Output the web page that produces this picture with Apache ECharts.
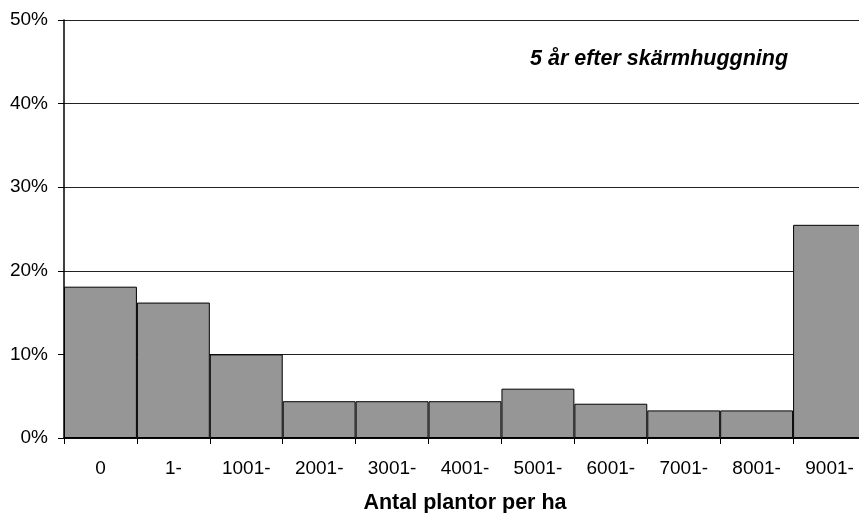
<!DOCTYPE html>
<html>
<head>
<meta charset="utf-8">
<script src="https://cdn.jsdelivr.net/npm/echarts@6/dist/echarts.min.js"></script>
<style>
html,body{margin:0;padding:0;background:#fff;}
#c{width:859px;height:513px;}
</style>
</head>
<body>
<div id="c"></div>
<script>
const categories = ['0','1-','1001-','2001-','3001-','4001-','5001-','6001-','7001-','8001-','9001-'];
const shares = [18.1, 16.2, 10.0, 4.4, 4.4, 4.4, 5.9, 4.1, 3.3, 3.3, 25.5];
const yTicks = [0, 10, 20, 30, 40, 50];
const titleText = '5 år efter skärmhuggning';
const xAxisName = 'Antal plantor per ha';

const FONT = '"Liberation Sans", Arial, sans-serif';
const chart = echarts.init(document.getElementById('c'), null, {renderer: 'canvas'});
chart.setOption({
  animation: false,
  backgroundColor: '#fff',
  title: {
    text: titleText,
    left: 530, top: 48, padding: 0,
    textStyle: {fontFamily: FONT, fontSize: 21.5, fontWeight: 'bold', fontStyle: 'italic', color: '#000'}
  },
  grid: {left: 64, width: 802, top: 20, height: 418, containLabel: false, outerBoundsMode: 'none'},
  xAxis: {
    type: 'category',
    data: categories,
    boundaryGap: true,
    name: xAxisName,
    nameLocation: 'middle',
    nameGap: 54,
    nameTextStyle: {fontFamily: FONT, fontSize: 21.5, fontWeight: 'bold', color: '#000'},
    axisLine: {lineStyle: {color: '#000', width: 1.5}},
    axisTick: {show: true, length: 6, lineStyle: {color: '#000', width: 1}},
    axisLabel: {fontFamily: FONT, fontSize: 19, color: '#000', margin: 21}
  },
  yAxis: {
    type: 'value',
    min: yTicks[0], max: yTicks[yTicks.length - 1], interval: 10,
    axisLine: {show: true, lineStyle: {color: '#000', width: 1.5}},
    axisTick: {show: true, length: 6, lineStyle: {color: '#000', width: 1}},
    axisLabel: {fontFamily: FONT, fontSize: 19, color: '#000', margin: 16, formatter: '{value}%'},
    splitLine: {show: true, lineStyle: {color: '#222', width: 1}}
  },
  series: [{
    type: 'bar',
    data: shares,
    barCategoryGap: '0%',
    itemStyle: {color: '#969696', borderColor: '#000', borderWidth: 1}
  }]
});
</script>
</body>
</html>
